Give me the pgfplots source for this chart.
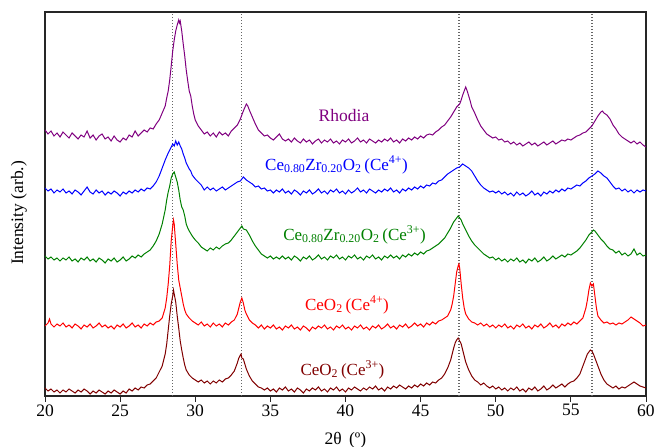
\documentclass[border=0pt]{standalone}
\usepackage{fontspec}
\setmainfont{Liberation Serif}
\usepackage{pgfplots}
\pgfplotsset{compat=1.18}
\definecolor{cpurple}{RGB}{128,0,128}
\definecolor{cblue}{RGB}{0,0,255}
\definecolor{cgreen}{RGB}{0,128,0}
\definecolor{cred}{RGB}{255,0,0}
\definecolor{cbrown}{RGB}{128,0,0}
\begin{document}
\begin{tikzpicture}
\useasboundingbox (0,0) rectangle (654pt,447pt);
\begin{axis}[
  at={(45pt,51pt)}, anchor=south west,
  scale only axis, width=601pt, height=384pt,
  xmin=20, xmax=60, ymin=0, ymax=384,
  xtick={20,25,...,60}, ytick=\empty,
  xtick pos=left, tick align=outside, major tick length=6pt,
  axis line style={line width=1.1pt, black!85},
  tick style={line width=0.9pt, black!85},
  /pgf/number format/assume math mode=true,
  tick label style={font=\fontsize{17.5}{20}\selectfont},
  xticklabel style={yshift=1pt},
  label style={font=\fontsize{17.5}{20}\selectfont},
  xlabel={2θ\, (º)},
  xlabel style={at={(rel axis cs:0.5,-0.1146)}, anchor=center},
  ylabel={Intensity (arb.)},
  ylabel style={at={(rel axis cs:-0.0433,0.4766)}, anchor=center},
  every axis plot/.append style={line width=1pt},
]
% reference lines
\addplot[black!60, line width=1.2pt, dash pattern=on 1.4pt off 1.6pt] coordinates {(28.5,0) (28.5,384)};
\addplot[black!60, line width=1.2pt, dash pattern=on 1.4pt off 1.6pt] coordinates {(33.1,0) (33.1,384)};
\addplot[black!60, line width=1.2pt, dash pattern=on 1.4pt off 1.6pt] coordinates {(47.55,0) (47.55,384)};
\addplot[black!60, line width=1.2pt, dash pattern=on 1.4pt off 1.6pt] coordinates {(56.4,0) (56.4,384)};
% Rhodia
\addplot[cpurple] coordinates {
(20.0,266)(20.2,262)(20.4,265)(20.6,260)(20.8,263)(21.0,259)(21.2,264)(21.4,261)(21.6,258)(21.8,263)
(22.0,260)(22.2,257)(22.4,261)(22.6,259)(22.8,265)(23.0,258)(23.2,261)(23.4,256)(23.6,260)(23.8,262)
(24.0,257)(24.2,259)(24.4,255)(24.6,260)(24.8,256)(25.0,254)(25.2,258)(25.4,256)(25.6,261)(25.8,259)
(26.0,265)(26.2,260)(26.4,263)(26.6,266)(26.8,264)(27.0,268)(27.2,267)(27.4,272)(27.6,276)(27.8,283)
(28.0,290)(28.1,298)(28.2,305)(28.3,316)(28.4,330)(28.5,345)(28.6,356)(28.7,365)(28.8,371)(28.9,376)
(28.95,373)(29.0,375)(29.1,365)(29.2,352)(29.3,340)(29.4,326)(29.5,315)(29.6,305)(29.7,300)(29.8,290)
(29.9,282)(30.0,276)(30.2,270)(30.4,266)(30.6,262)(30.8,264)(31.0,260)(31.2,263)(31.4,259)(31.6,264)
(31.8,261)(32.0,263)(32.2,260)(32.4,265)(32.6,268)(32.8,271)(33.0,277)(33.2,285)(33.4,292)(33.5,290)
(33.6,286)(33.8,279)(34.0,272)(34.2,266)(34.4,263)(34.6,260)(34.8,261)(35.0,258)(35.2,256)(35.4,259)
(35.6,262)(35.8,257)(36.0,255)(36.2,257)(36.4,254)(36.6,258)(36.8,255)(37.0,253)(37.2,257)(37.4,254)
(37.6,256)(37.8,252)(38.0,255)(38.2,257)(38.4,253)(38.6,256)(38.8,254)(39.0,257)(39.2,253)(39.4,255)
(39.6,252)(39.8,256)(40.0,254)(40.2,257)(40.4,253)(40.6,255)(40.8,258)(41.0,254)(41.2,256)(41.4,253)
(41.6,257)(41.8,255)(42.0,253)(42.2,256)(42.4,254)(42.6,257)(42.8,255)(43.0,258)(43.2,254)(43.4,256)
(43.6,253)(43.8,257)(44.0,255)(44.2,258)(44.4,256)(44.6,259)(44.8,257)(45.0,260)(45.2,258)(45.4,261)
(45.6,262)(45.8,261)(46.0,264)(46.2,266)(46.4,269)(46.6,271)(46.8,275)(47.0,279)(47.2,284)(47.4,289)
(47.6,292)(47.7,296)(47.8,301)(47.9,305)(48.0,309)(48.1,305)(48.2,300)(48.3,295)(48.4,289)(48.6,283)
(48.8,276)(49.0,270)(49.2,266)(49.4,262)(49.6,260)(49.8,258)(50.0,259)(50.2,256)(50.4,257)(50.6,254)
(50.8,255)(51.0,252)(51.2,254)(51.4,251)(51.6,253)(51.8,250)(52.0,252)(52.2,254)(52.4,251)(52.6,253)
(52.8,250)(53.0,252)(53.2,254)(53.4,251)(53.6,253)(53.8,255)(54.0,252)(54.2,254)(54.4,256)(54.6,255)
(54.8,257)(55.0,256)(55.2,258)(55.4,260)(55.6,261)(55.8,263)(56.0,264)(56.2,267)(56.4,270)(56.6,275)
(56.8,280)(57.0,284)(57.1,285)(57.2,283)(57.4,281)(57.6,277)(57.8,271)(58.0,267)(58.2,262)(58.4,259)
(58.6,257)(58.8,255)(59.0,253)(59.2,255)(59.4,252)(59.6,254)(59.8,251)(60.0,249)
};
% Ce0.80Zr0.20O2 (Ce4+)
\addplot[cblue] coordinates {
(20.0,208)(20.2,205)(20.4,207)(20.6,203)(20.8,206)(21.0,204)(21.2,207)(21.4,203)(21.6,205)(21.8,202)
(22.0,206)(22.2,204)(22.4,201)(22.6,205)(22.8,209)(23.0,204)(23.2,202)(23.4,206)(23.6,203)(23.8,205)
(24.0,201)(24.2,204)(24.4,202)(24.6,205)(24.8,203)(25.0,200)(25.2,204)(25.4,202)(25.6,205)(25.8,203)
(26.0,206)(26.2,204)(26.4,207)(26.6,205)(26.8,208)(27.0,207)(27.2,210)(27.4,214)(27.6,220)(27.8,228)
(28.0,236)(28.2,243)(28.4,249)(28.5,252)(28.6,250)(28.7,255)(28.8,251)(28.9,254)(29.0,250)(29.1,247)
(29.2,242)(29.3,238)(29.4,233)(29.5,230)(29.6,227)(29.7,225)(29.8,221)(30.0,217)(30.2,214)(30.4,211)
(30.6,206)(30.8,209)(31.0,206)(31.2,208)(31.4,205)(31.6,207)(31.8,209)(32.0,206)(32.2,208)(32.4,210)
(32.6,212)(32.8,214)(33.0,215)(33.2,219)(33.4,216)(33.6,214)(33.8,212)(34.0,209)(34.2,210)(34.4,207)
(34.6,208)(34.8,205)(35.0,206)(35.2,203)(35.4,206)(35.6,204)(35.8,207)(36.0,203)(36.2,205)(36.4,202)
(36.6,206)(36.8,204)(37.0,201)(37.2,205)(37.4,203)(37.6,206)(37.8,202)(38.0,204)(38.2,207)(38.4,203)
(38.6,205)(38.8,202)(39.0,206)(39.2,204)(39.4,207)(39.6,203)(39.8,205)(40.0,202)(40.2,206)(40.4,203)
(40.6,205)(40.8,208)(41.0,204)(41.2,206)(41.4,203)(41.6,207)(41.8,205)(42.0,203)(42.2,206)(42.4,204)
(42.6,207)(42.8,205)(43.0,208)(43.2,204)(43.4,206)(43.6,203)(43.8,207)(44.0,205)(44.2,208)(44.4,206)
(44.6,209)(44.8,207)(45.0,210)(45.2,208)(45.4,211)(45.6,210)(45.8,213)(46.0,212)(46.2,215)(46.4,216)
(46.6,219)(46.8,222)(47.0,224)(47.2,226)(47.4,228)(47.6,229)(47.8,232)(48.0,230)(48.2,228)(48.4,225)
(48.6,220)(48.8,215)(49.0,211)(49.2,208)(49.4,206)(49.6,204)(49.8,205)(50.0,203)(50.2,205)(50.4,202)
(50.6,204)(50.8,201)(51.0,203)(51.2,200)(51.4,204)(51.6,201)(51.8,203)(52.0,200)(52.2,202)(52.4,205)
(52.6,201)(52.8,203)(53.0,200)(53.2,204)(53.4,202)(53.6,205)(53.8,203)(54.0,206)(54.2,204)(54.4,207)
(54.6,205)(54.8,208)(55.0,207)(55.2,209)(55.4,211)(55.6,210)(55.8,213)(56.0,215)(56.2,218)(56.4,220)
(56.6,222)(56.8,225)(57.0,223)(57.2,220)(57.4,218)(57.6,214)(57.8,210)(58.0,207)(58.2,208)(58.4,205)
(58.6,207)(58.8,204)(59.0,206)(59.2,203)(59.4,206)(59.6,204)(59.8,206)(60.0,205)
};
% Ce0.80Zr0.20O2 (Ce3+)
\addplot[cgreen] coordinates {
(20.0,140)(20.2,137)(20.4,139)(20.6,136)(20.8,138)(21.0,135)(21.2,138)(21.4,136)(21.6,139)(21.8,135)
(22.0,137)(22.2,134)(22.4,138)(22.6,136)(22.8,139)(23.0,135)(23.2,137)(23.4,134)(23.6,138)(23.8,136)
(24.0,133)(24.2,137)(24.4,135)(24.6,138)(24.8,134)(25.0,136)(25.2,139)(25.4,135)(25.6,137)(25.8,140)
(26.0,138)(26.2,141)(26.4,139)(26.6,142)(26.8,144)(27.0,146)(27.2,150)(27.4,155)(27.6,162)(27.8,172)
(28.0,186)(28.1,196)(28.2,204)(28.3,210)(28.4,218)(28.5,222)(28.6,224)(28.7,219)(28.8,214)(28.9,206)
(29.0,196)(29.1,189)(29.2,186)(29.3,180)(29.4,172)(29.5,168)(29.6,165)(29.8,160)(30.0,156)(30.2,153)
(30.4,149)(30.6,147)(30.8,145)(31.0,148)(31.2,146)(31.4,149)(31.6,147)(31.8,150)(32.0,152)(32.2,153)
(32.4,156)(32.6,160)(32.8,164)(33.0,168)(33.1,170)(33.2,167)(33.4,166)(33.6,161)(33.8,155)(34.0,150)
(34.2,146)(34.4,142)(34.6,140)(34.8,138)(35.0,140)(35.2,137)(35.4,139)(35.6,137)(35.8,140)(36.0,137)
(36.2,139)(36.4,136)(36.6,140)(36.8,138)(37.0,135)(37.2,139)(37.4,137)(37.6,140)(37.8,136)(38.0,138)
(38.2,141)(38.4,137)(38.6,139)(38.8,136)(39.0,140)(39.2,138)(39.4,141)(39.6,137)(39.8,139)(40.0,136)
(40.2,140)(40.4,138)(40.6,141)(40.8,137)(41.0,139)(41.2,136)(41.4,140)(41.6,138)(41.8,141)(42.0,137)
(42.2,139)(42.4,136)(42.6,140)(42.8,138)(43.0,141)(43.2,138)(43.4,140)(43.6,137)(43.8,141)(44.0,139)
(44.2,142)(44.4,140)(44.6,143)(44.8,141)(45.0,144)(45.2,142)(45.4,145)(45.6,146)(45.8,148)(46.0,150)
(46.2,152)(46.4,155)(46.6,158)(46.8,163)(47.0,168)(47.2,174)(47.4,178)(47.5,180)(47.6,178)(47.7,176)
(47.8,172)(48.0,166)(48.2,160)(48.4,155)(48.6,151)(48.8,148)(49.0,145)(49.2,142)(49.4,140)(49.6,138)
(49.8,139)(50.0,136)(50.2,138)(50.4,135)(50.6,137)(50.8,134)(51.0,137)(51.2,135)(51.4,138)(51.6,134)
(51.8,136)(52.0,133)(52.2,137)(52.4,135)(52.6,138)(52.8,134)(53.0,136)(53.2,139)(53.4,135)(53.6,137)
(53.8,140)(54.0,137)(54.2,139)(54.4,141)(54.6,139)(54.8,142)(55.0,141)(55.2,143)(55.4,145)(55.6,148)
(55.8,152)(56.0,156)(56.2,161)(56.4,164)(56.5,166)(56.6,165)(56.8,161)(57.0,157)(57.2,154)(57.4,150)
(57.6,147)(57.8,146)(58.0,143)(58.2,145)(58.4,141)(58.6,143)(58.8,140)(59.0,142)(59.2,147)(59.4,141)
(59.6,143)(59.8,140)(60.0,141)
};
% CeO2 (Ce4+)
\addplot[cred] coordinates {
(20.0,70)(20.2,73)(20.3,77)(20.4,72)(20.6,69)(20.8,72)(21.0,70)(21.2,73)(21.4,69)(21.6,71)
(21.8,68)(22.0,72)(22.2,70)(22.4,67)(22.6,71)(22.8,69)(23.0,72)(23.2,68)(23.4,70)(23.6,73)
(23.8,69)(24.0,71)(24.2,68)(24.4,70)(24.6,67)(24.8,71)(25.0,69)(25.2,72)(25.4,68)(25.6,70)
(25.8,73)(26.0,69)(26.2,71)(26.4,68)(26.6,72)(26.8,70)(27.0,73)(27.2,71)(27.4,74)(27.6,75)
(27.8,78)(28.0,88)(28.1,98)(28.2,112)(28.3,130)(28.4,155)(28.5,170)(28.55,176)(28.6,172)(28.7,152)
(28.8,132)(28.9,116)(29.0,108)(29.1,100)(29.2,92)(29.3,86)(29.4,82)(29.6,78)(29.8,75)(30.0,73)
(30.2,71)(30.4,74)(30.6,70)(30.8,72)(31.0,69)(31.2,73)(31.4,70)(31.6,72)(31.8,69)(32.0,73)
(32.2,71)(32.4,74)(32.6,76)(32.8,82)(32.9,88)(33.0,94)(33.1,98)(33.2,93)(33.3,86)(33.4,82)
(33.6,76)(33.8,73)(34.0,71)(34.2,68)(34.4,71)(34.6,67)(34.8,70)(35.0,68)(35.2,71)(35.4,67)
(35.6,69)(35.8,66)(36.0,70)(36.2,68)(36.4,71)(36.6,67)(36.8,69)(37.0,66)(37.2,70)(37.4,68)
(37.6,65)(37.8,69)(38.0,67)(38.2,70)(38.4,68)(38.6,71)(38.8,67)(39.0,69)(39.2,66)(39.4,70)
(39.6,68)(39.8,71)(40.0,67)(40.2,69)(40.4,66)(40.6,70)(40.8,68)(41.0,71)(41.2,67)(41.4,69)
(41.6,66)(41.8,70)(42.0,68)(42.2,71)(42.4,67)(42.6,69)(42.8,72)(43.0,68)(43.2,70)(43.4,67)
(43.6,71)(43.8,69)(44.0,72)(44.2,68)(44.4,70)(44.6,73)(44.8,70)(45.0,72)(45.2,69)(45.4,73)
(45.6,71)(45.8,74)(46.0,72)(46.2,75)(46.4,76)(46.6,78)(46.8,80)(47.0,86)(47.1,92)(47.2,100)
(47.3,112)(47.4,124)(47.5,130)(47.55,132)(47.6,128)(47.7,112)(47.8,98)(47.9,88)(48.0,82)(48.2,77)
(48.4,74)(48.6,73)(48.8,71)(49.0,73)(49.2,70)(49.4,72)(49.6,69)(49.8,71)(50.0,68)(50.2,71)
(50.4,69)(50.6,72)(50.8,68)(51.0,70)(51.2,67)(51.4,71)(51.6,69)(51.8,72)(52.0,68)(52.2,70)
(52.4,67)(52.6,71)(52.8,69)(53.0,72)(53.2,68)(53.4,70)(53.6,73)(53.8,69)(54.0,71)(54.2,68)
(54.4,72)(54.6,70)(54.8,73)(55.0,71)(55.2,74)(55.4,72)(55.6,75)(55.8,78)(56.0,88)(56.1,96)
(56.2,106)(56.3,113)(56.4,110)(56.5,112)(56.6,100)(56.7,88)(56.8,80)(57.0,76)(57.2,73)(57.4,74)
(57.6,72)(57.8,73)(58.0,71)(58.2,73)(58.4,72)(58.6,74)(58.8,76)(59.0,79)(59.2,77)(59.4,75)
(59.6,73)(59.8,70)(60.0,71)
};
% CeO2 (Ce3+)
\addplot[cbrown] coordinates {
(20.0,8)(20.2,5)(20.4,7)(20.6,4)(20.8,6)(21.0,3)(21.2,6)(21.4,4)(21.6,7)(21.8,5)
(22.0,3)(22.2,6)(22.4,4)(22.6,7)(22.8,5)(23.0,2)(23.2,5)(23.4,3)(23.6,6)(23.8,4)
(24.0,2)(24.2,5)(24.4,3)(24.6,6)(24.8,4)(25.0,2)(25.2,5)(25.4,3)(25.6,7)(25.8,5)
(26.0,8)(26.2,6)(26.4,9)(26.6,8)(26.8,11)(27.0,12)(27.2,15)(27.4,18)(27.6,24)(27.8,30)
(28.0,42)(28.1,52)(28.2,66)(28.3,80)(28.4,92)(28.5,100)(28.55,106)(28.6,102)(28.7,94)(28.8,80)
(28.9,68)(29.0,55)(29.1,46)(29.2,38)(29.3,31)(29.4,26)(29.6,21)(29.8,18)(30.0,16)(30.2,14)
(30.4,16)(30.6,13)(30.8,15)(31.0,12)(31.2,15)(31.4,13)(31.6,16)(31.8,14)(32.0,17)(32.2,18)
(32.4,21)(32.6,25)(32.8,33)(32.9,38)(33.0,41)(33.05,42)(33.1,38)(33.2,37)(33.3,32)(33.4,27)
(33.6,20)(33.8,15)(34.0,12)(34.2,9)(34.4,8)(34.6,6)(34.8,8)(35.0,5)(35.2,7)(35.4,4)
(35.6,8)(35.8,6)(36.0,9)(36.2,5)(36.4,7)(36.6,4)(36.8,8)(37.0,6)(37.2,3)(37.4,7)
(37.6,5)(37.8,8)(38.0,6)(38.2,9)(38.4,5)(38.6,7)(38.8,4)(39.0,8)(39.2,6)(39.4,9)
(39.6,5)(39.8,7)(40.0,4)(40.2,8)(40.4,6)(40.6,9)(40.8,7)(41.0,5)(41.2,8)(41.4,6)
(41.6,9)(41.8,7)(42.0,10)(42.2,6)(42.4,8)(42.6,5)(42.8,9)(43.0,7)(43.2,10)(43.4,8)
(43.6,11)(43.8,9)(44.0,7)(44.2,10)(44.4,8)(44.6,11)(44.8,9)(45.0,12)(45.2,10)(45.4,13)
(45.6,11)(45.8,14)(46.0,13)(46.2,16)(46.4,18)(46.6,22)(46.8,28)(47.0,36)(47.1,42)(47.2,48)
(47.3,53)(47.4,56)(47.5,58)(47.6,55)(47.7,52)(47.8,46)(47.9,40)(48.0,34)(48.2,26)(48.4,20)
(48.6,16)(48.8,14)(49.0,11)(49.2,13)(49.4,10)(49.6,8)(49.8,10)(50.0,7)(50.2,9)(50.4,6)
(50.6,8)(50.8,5)(51.0,8)(51.2,6)(51.4,9)(51.6,5)(51.8,7)(52.0,4)(52.2,8)(52.4,6)
(52.6,9)(52.8,5)(53.0,7)(53.2,10)(53.4,6)(53.6,8)(53.8,11)(54.0,8)(54.2,10)(54.4,12)
(54.6,9)(54.8,12)(55.0,14)(55.2,15)(55.4,18)(55.6,22)(55.8,30)(56.0,38)(56.1,42)(56.2,44)
(56.3,46)(56.4,45)(56.5,42)(56.6,38)(56.8,30)(57.0,22)(57.2,16)(57.4,12)(57.6,10)(57.8,8)
(58.0,10)(58.2,7)(58.4,9)(58.6,8)(58.8,10)(59.0,12)(59.2,14)(59.4,12)(59.6,10)(59.8,9)
(60.0,8)
};
% labels
\node[cpurple, font=\fontsize{17.5}{20}\selectfont] at (axis cs:39.9,280) {Rhodia};
\node[cblue, font=\fontsize{17}{20}\selectfont] at (axis cs:39.4,231) {Ce\textsubscript{0.80}Zr\textsubscript{0.20}O\textsubscript{2}\,(Ce\textsuperscript{4+})};
\node[cgreen, font=\fontsize{17}{20}\selectfont] at (axis cs:40.6,161) {Ce\textsubscript{0.80}Zr\textsubscript{0.20}O\textsubscript{2}\,(Ce\textsuperscript{3+})};
\node[cred, font=\fontsize{17}{20}\selectfont] at (axis cs:40.1,91) {CeO\textsubscript{2}\,(Ce\textsuperscript{4+})};
\node[cbrown, font=\fontsize{17}{20}\selectfont] at (axis cs:39.8,26) {CeO\textsubscript{2}\,(Ce\textsuperscript{3+})};
\end{axis}
\end{tikzpicture}
\end{document}
